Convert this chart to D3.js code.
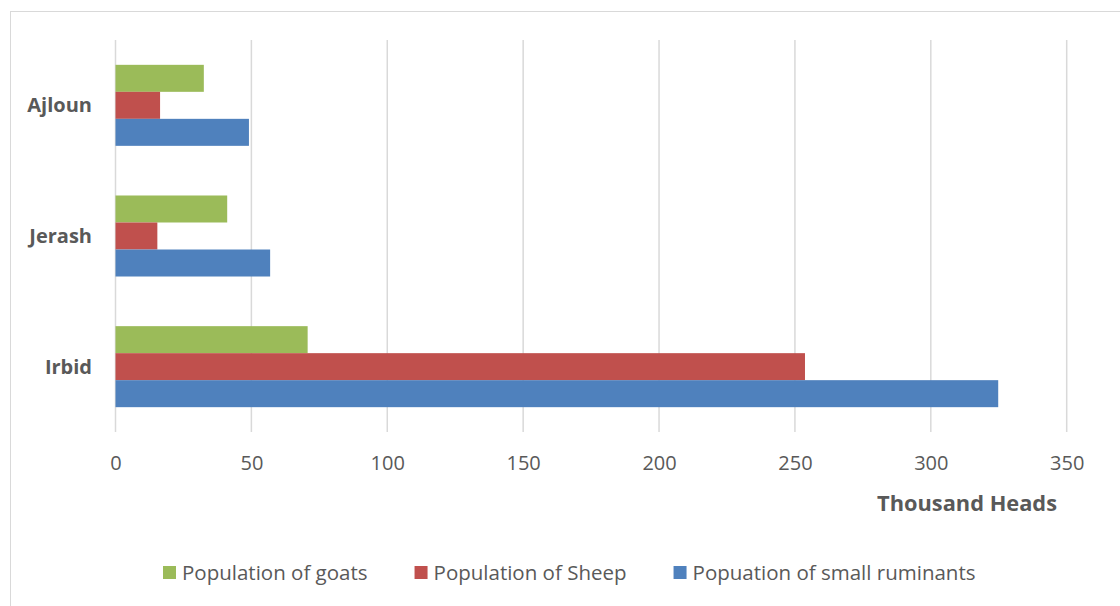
<!DOCTYPE html>
<html>
<head>
<meta charset="utf-8">
<script src="https://cdn.jsdelivr.net/npm/d3@7"></script>
<style>
  body { margin: 0; background: #fff; }
  svg text { font-family: "Open Sans", "Noto Sans", sans-serif; fill: #595959; }
</style>
</head>
<body>
<svg id="chart" width="1120" height="606"></svg>
<script>
// regions, top to bottom as drawn
const regions = ["Ajloun", "Jerash", "Irbid"];
const seriesNames = ["Population of goats", "Population of Sheep", "Popuation of small ruminants"];
const seriesColors = ["#9BBB59", "#C0504D", "#4F81BD"];
// thousand heads per region
const goats = [32.5, 41.1, 70.7];
const sheep = [16.4, 15.4, 253.7];
const smallRuminants = [49.1, 56.9, 324.8];
const xTicks = [0, 50, 100, 150, 200, 250, 300, 350];

const series = [goats, sheep, smallRuminants];

const svg = d3.select("#chart");

// outer chart frame
svg.append("rect")
    .attr("x", 10.5).attr("y", 11.5)
    .attr("width", 1130).attr("height", 620)
    .attr("fill", "none")
    .attr("stroke", "#D9D9D9")
    .attr("stroke-width", 1);

const plot = { left: 115.5, right: 1066.7, top: 40, bottom: 432 };

const x = d3.scaleLinear().domain([0, 350]).range([plot.left, plot.right]);
const y = d3.scaleBand().domain(regions).range([plot.top, plot.bottom])
    .paddingInner(0.38).paddingOuter(0.19);
const ySub = d3.scaleBand().domain(d3.range(series.length)).range([0, y.bandwidth()]);

// gridlines
svg.append("g")
    .selectAll("line")
    .data(xTicks)
    .join("line")
    .attr("x1", d => x(d)).attr("x2", d => x(d))
    .attr("y1", plot.top).attr("y2", plot.bottom)
    .attr("stroke", "#D9D9D9")
    .attr("stroke-width", 1.5);

// bars
const groups = svg.append("g")
    .selectAll("g")
    .data(series)
    .join("g")
    .attr("fill", (d, i) => seriesColors[i]);

groups.selectAll("rect")
    .data((vals, si) => vals.map((v, ri) => ({ v, region: regions[ri], si })))
    .join("rect")
    .attr("x", x(0))
    .attr("y", d => y(d.region) + ySub(d.si))
    .attr("width", d => x(d.v) - x(0))
    .attr("height", ySub.bandwidth());

// x axis labels
const xAxis = d3.axisBottom(x).tickValues(xTicks).tickSize(0).tickPadding(0);
const xg = svg.append("g")
    .attr("transform", `translate(0, ${plot.bottom})`)
    .call(xAxis);
xg.select(".domain").remove();
xg.selectAll("text")
    .attr("y", 38)
    .attr("dy", null)
    .attr("font-size", 20)
    .style("font-family", "\"Open Sans\", sans-serif")
    .attr("fill", "#595959");

// y axis labels
const yAxis = d3.axisLeft(y).tickSize(0).tickPadding(0);
const yg = svg.append("g")
    .attr("transform", `translate(92, 0)`)
    .call(yAxis);
yg.select(".domain").remove();
yg.selectAll("text")
    .attr("dy", "0.35em")
    .attr("font-size", 20)
    .attr("font-weight", "bold")
    .style("font-family", "\"Open Sans\", sans-serif")
    .attr("fill", "#595959");

// axis title
svg.append("text")
    .attr("x", 1057).attr("y", 511)
    .attr("text-anchor", "end")
    .attr("font-size", 21.8)
    .attr("font-weight", "bold")
    .text("Thousand Heads");

// legend
const legend = svg.append("g").attr("transform", "translate(0, 573)");
const items = legend.selectAll("g")
    .data(seriesNames)
    .join("g");
items.append("rect")
    .attr("y", -7).attr("width", 13).attr("height", 13)
    .attr("fill", (d, i) => seriesColors[i]);
items.append("text")
    .attr("x", 19).attr("dy", "0.35em")
    .attr("font-size", 20.5)
    .text(d => d);

let cursor = 163;
items.each(function () {
    const g = d3.select(this);
    g.attr("transform", `translate(${cursor}, 0)`);
    const w = g.select("text").node().getComputedTextLength();
    cursor += 19 + w + 47;
});
</script>
</body>
</html>
